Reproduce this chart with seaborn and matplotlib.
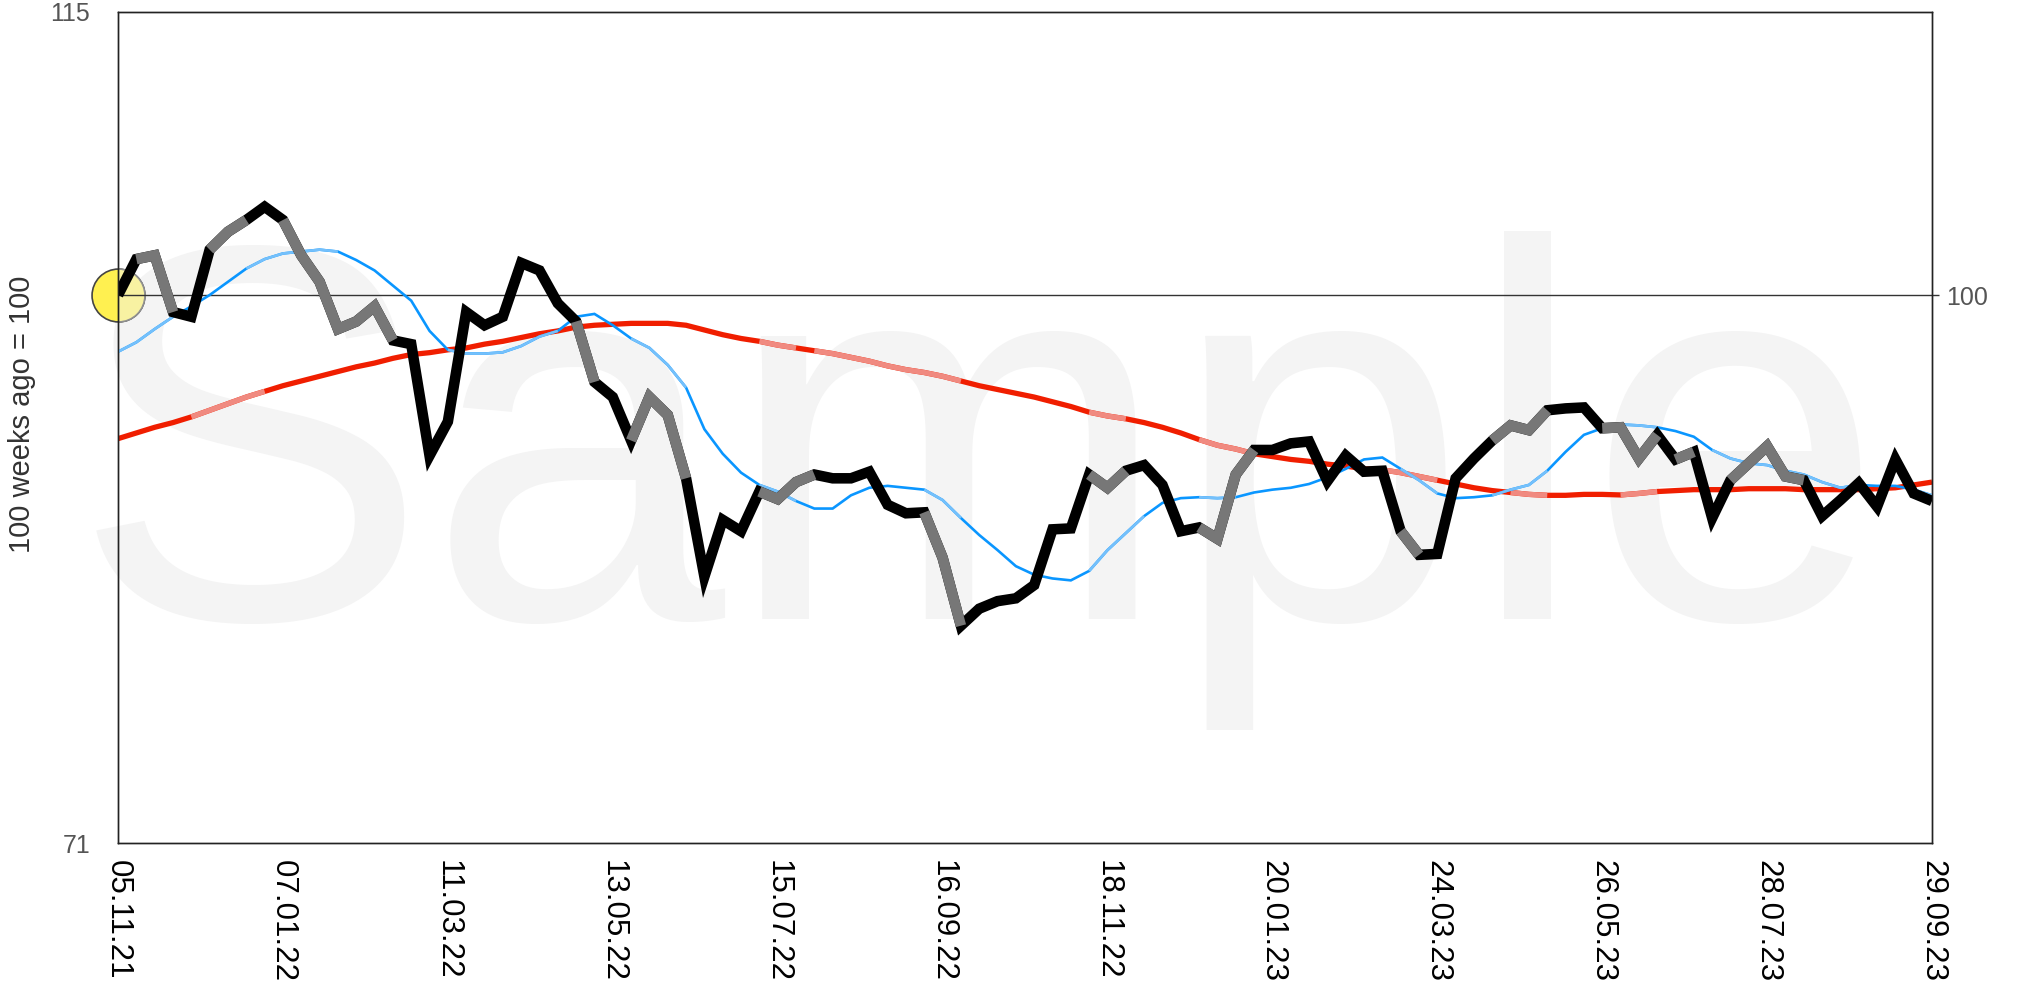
import numpy as np
import pandas as pd
import matplotlib
matplotlib.use("Agg")
import matplotlib.pyplot as plt
import seaborn as sns

sns.set_theme(style="white")
plt.rcParams["font.family"] = ["Liberation Sans", "DejaVu Sans"]
plt.rcParams["lines.solid_joinstyle"] = "miter"
plt.rcParams["lines.solid_capstyle"] = "butt"

# ------------------------------------------------------------
# data (weekly, 100 weeks)
# ------------------------------------------------------------
start_date = "2021-11-05"
n_weeks = 100
tick_step = 9

price = [100.0, 101.9, 102.1, 99.1, 98.85, 102.4, 103.35, 103.97, 104.67, 103.97,
         102.1, 100.7, 98.2, 98.6, 99.4, 97.6, 97.4, 91.5, 93.3, 99.1,
         98.4, 98.85, 101.7, 101.3, 99.56, 98.6, 95.4, 94.6, 92.3, 94.6,
         93.65, 90.3, 85.1, 88.1, 87.5, 89.6, 89.2, 90.1, 90.5, 90.3,
         90.3, 90.65, 88.9, 88.45, 88.5, 86.1, 82.5, 83.4, 83.8, 83.95,
         84.65, 87.6, 87.65, 90.5, 89.8, 90.7, 91.0, 89.95, 87.5, 87.7,
         87.1, 90.5, 91.8, 91.8, 92.15, 92.25, 90.15, 91.5, 90.65, 90.7,
         87.5, 86.25, 86.3, 90.3, 91.35, 92.3, 93.1, 92.85, 93.9, 94.0,
         94.05, 92.95, 93.0, 91.35, 92.6, 91.3, 91.7, 88.2, 90.2, 91.1,
         92.0, 90.4, 90.2, 88.3, 89.15, 90.05, 88.8, 91.3, 89.5, 89.1]

ma_short = [97.0, 97.5, 98.2, 98.85, 99.4, 100.0, 100.7, 101.4, 101.9, 102.2,
            102.3, 102.4, 102.3, 101.85, 101.3, 100.5, 99.7, 98.1, 97.1, 96.9,
            96.9, 96.97, 97.3, 97.8, 98.1, 98.85, 99.0, 98.4, 97.7, 97.2,
            96.3, 95.1, 92.9, 91.6, 90.6, 89.95, 89.6, 89.1, 88.7, 88.7,
            89.4, 89.8, 89.9, 89.8, 89.7, 89.15, 88.2, 87.3, 86.5, 85.65,
            85.2, 85.0, 84.9, 85.4, 86.5, 87.4, 88.3, 89.0, 89.25, 89.3,
            89.25, 89.3, 89.55, 89.7, 89.8, 90.0, 90.35, 90.8, 91.3, 91.4,
            90.8, 90.2, 89.5, 89.25, 89.3, 89.4, 89.7, 89.95, 90.7, 91.7,
            92.6, 92.95, 93.15, 93.1, 93.0, 92.8, 92.5, 91.8, 91.35, 91.1,
            91.0, 90.7, 90.5, 90.1, 89.8, 89.95, 89.9, 89.9, 89.7, 89.4]

ma_long = [92.4, 92.7, 93.0, 93.25, 93.55, 93.9, 94.25, 94.6, 94.9, 95.2,
           95.45, 95.7, 95.95, 96.2, 96.4, 96.65, 96.85, 96.95, 97.1, 97.2,
           97.4, 97.55, 97.75, 97.95, 98.1, 98.3, 98.4, 98.45, 98.5, 98.5,
           98.5, 98.4, 98.15, 97.9, 97.7, 97.55, 97.35, 97.2, 97.05, 96.9,
           96.7, 96.5, 96.25, 96.05, 95.9, 95.7, 95.45, 95.2, 95.0, 94.8,
           94.6, 94.35, 94.1, 93.8, 93.6, 93.45, 93.25, 93.0, 92.7, 92.35,
           92.05, 91.85, 91.6, 91.45, 91.3, 91.2, 91.05, 90.95, 90.8, 90.75,
           90.6, 90.4, 90.2, 90.0, 89.8, 89.65, 89.55, 89.45, 89.4, 89.4,
           89.45, 89.45, 89.42, 89.5, 89.6, 89.65, 89.7, 89.7, 89.7, 89.75,
           89.75, 89.75, 89.7, 89.7, 89.7, 89.7, 89.75, 89.8, 89.95, 90.1]

# segments (week i -> i+1) drawn in the lighter shade
price_gray = [1, 2, 5, 6, 9, 10, 11, 12, 13, 14, 25, 28, 29, 30, 35, 36, 37,
              44, 45, 53, 54, 59, 60, 61, 70, 75, 76, 77, 81, 82, 83, 85,
              88, 89, 90, 91]
short_light = [0, 1, 2, 7, 8, 9, 10, 11, 18, 19, 20, 21, 22, 23, 28, 29, 30,
               35, 36, 44, 45, 53, 54, 55, 59, 60, 70, 71, 75, 76, 77, 82, 83,
               87, 88, 89, 90, 91, 92, 93, 94, 98]
long_light = [4, 5, 6, 7, 35, 36, 38, 39, 40, 41, 42, 43, 44, 45, 53, 54,
              59, 60, 61, 69, 70, 71, 76, 77, 82, 83]

dates = pd.date_range(start_date, periods=n_weeks, freq="7D")
weeks = np.arange(n_weeks)


def runs_frame(values, seg_idx):
    # consecutive flagged segments -> one polyline per run
    rows = []
    run = -1
    prev = None
    for s in sorted(seg_idx):
        if prev is None or s != prev + 1:
            run += 1
            rows.append((run, s, values[s]))
        rows.append((run, s + 1, values[s + 1]))
        prev = s
    return pd.DataFrame(rows, columns=["run", "week", "value"])


# ------------------------------------------------------------
# figure
# ------------------------------------------------------------
fig = plt.figure(figsize=(20.18, 9.89), dpi=100)
ax = fig.add_axes([0.0585, 0.1476, 0.8989, 0.8407])

# watermark
ax.text(0.0357, 0.374, "Sample", transform=fig.transFigure, fontsize=385,
        color="#F4F4F4", ha="left", va="baseline", zorder=0.1, clip_on=False)

# start marker
sns.scatterplot(x=[weeks[0]], y=[price[0]], s=1450, color="#FFF050",
                edgecolor="#444444", linewidth=1.2, zorder=0.2, clip_on=False,
                legend=False, ax=ax)
sns.scatterplot(x=[weeks[0]], y=[price[0]], s=1450, color="#F8F2A2",
                edgecolor="#909090", linewidth=1.2, zorder=0.21, clip_on=True,
                legend=False, ax=ax)

ax.axhline(100, color="#333333", lw=1.0, zorder=1.5)

# long average
sns.lineplot(x=weeks, y=ma_long, color="#F01E00", lw=3.8, sort=False,
             zorder=2, ax=ax)
sns.lineplot(data=runs_frame(ma_long, long_light), x="week", y="value",
             units="run", estimator=None, color="#F08A80", lw=3.8, sort=False,
             zorder=2.1, legend=False, ax=ax)

# short average
sns.lineplot(x=weeks, y=ma_short, color="#0A96FF", lw=1.9, sort=False,
             zorder=3, ax=ax)
sns.lineplot(data=runs_frame(ma_short, short_light), x="week", y="value",
             units="run", estimator=None, color="#74C0FB", lw=1.9, sort=False,
             zorder=3.1, legend=False, ax=ax)

# price
sns.lineplot(x=weeks, y=price, color="#000000", lw=7.6, sort=False,
             zorder=4, ax=ax)
sns.lineplot(data=runs_frame(price, price_gray), x="week", y="value",
             units="run", estimator=None, color="#777777", lw=7.6, sort=False,
             zorder=4.1, legend=False, ax=ax)

ax.set_xlim(0, n_weeks - 1)
ax.set_ylim(71, 115)
ax.set_xlabel("")
ax.set_ylabel("")

ax.set_xticks(weeks[::tick_step])
ax.set_xticklabels(dates[::tick_step].strftime("%d.%m.%y"), rotation=-90,
                   fontsize=22.5, color="black")
ax.tick_params(axis="x", length=0, pad=12)

ax.set_yticks([71, 115])
ax.set_yticklabels(["71", "115"], fontsize=18, color="#555555")
ax.tick_params(axis="y", length=0, pad=20)

ax2 = ax.twinx()
ax2.set_ylim(71, 115)
ax2.set_yticks([100])
ax2.set_yticklabels(["100"], fontsize=18, color="#555555")
ax2.tick_params(axis="y", length=5, width=1, color="#333333", pad=5)
ax2.grid(False)
ax.grid(False)

for a in (ax, ax2):
    for sp in a.spines.values():
        sp.set_color("#222222")
        sp.set_linewidth(1.0)
        sp.set_visible(True)

fig.text(22 / 2018, 1 - 414 / 989, "100 weeks ago = 100", rotation=90,
         ha="center", va="center", fontsize=21, color="#333333")

fig.savefig("out.png", dpi=100)
